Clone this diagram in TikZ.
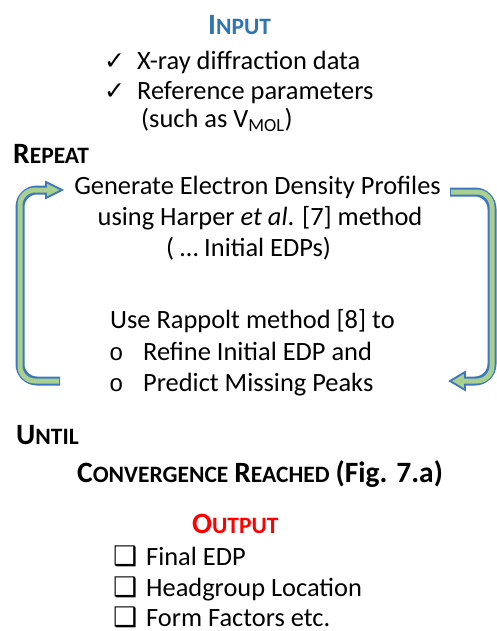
\documentclass[tikz,border=0pt]{standalone}
\usepackage{fontspec}
\setmainfont{Carlito}
\newfontfamily\symfont{DejaVu Sans}
\newfontfamily\monofont{Liberation Mono}
\definecolor{loopblue}{HTML}{3D77BD}
\definecolor{loopgreen}{HTML}{A9D08E}
\definecolor{inblue}{HTML}{2E75B6}
\definecolor{outred}{HTML}{FF0000}
\newcommand\szA{\fontsize{26.4}{30}\selectfont}
\newcommand\scBig{\fontsize{29.5}{30}\selectfont}
\newcommand\scSmall{\fontsize{23.5}{30}\selectfont}
\tikzset{
  txt/.style={anchor=base west, inner sep=0pt, font=\szA},
  ctxt/.style={anchor=base, inner sep=0pt, font=\szA},
  chk/.style={anchor=base west, inner sep=0pt, font=\symfont\fontsize{25}{26}\selectfont},
  bxs/.style={anchor=base west, inner sep=0pt, font=\symfont\fontsize{27}{28}\selectfont},
  bul/.style={anchor=base west, inner sep=0pt, font=\monofont\fontsize{24}{25}\selectfont},
  outerline/.style={draw=loopblue, line width=9pt, rounded corners=17pt},
  innerline/.style={draw=loopgreen, line width=5pt, rounded corners=15pt},
  headtip/.style={fill=loopgreen, draw=loopblue, line width=1.8pt, line join=miter}
}
\begin{document}
\begin{tikzpicture}[x=1pt,y=-1pt]
\useasboundingbox (0,0) rectangle (497,631);
% INPUT
\node[txt, text=inblue] (input) at (208,35) {\bfseries{\scBig I}{\scSmall NPUT}};
\node[chk] (ck1) at (104,70) {✓};
\node[txt] (in1) at (137,70) {X-ray diffraction data};
\node[chk] (ck2) at (104,100) {✓};
\node[txt] (in2) at (137,100) {Reference parameters};
\node[txt] (in3) at (141,128) {(such as V\textsubscript{MOL})};
% REPEAT
\node[txt] (repeat) at (13,164) {\bfseries{\scBig R}{\scSmall EPEAT}};
\node[ctxt] (gen1) at (257.5,194) {Generate Electron Density Profiles};
\node[ctxt] (gen2) at (260,225) {using Harper \textit{et al}. [7] method};
\node[ctxt] (gen3) at (248.5,256) {( … Initial EDPs)};
\node[txt] (use1) at (110,328) {Use Rappolt method [8] to};
\node[bul] (b1) at (109,360) {o};
\node[txt] (use2) at (143,360) {Refine Initial EDP and};
\node[bul] (b2) at (109,391) {o};
\node[txt] (use3) at (143,391) {Predict Missing Peaks};
% UNTIL
\node[txt] (until) at (16,444) {\bfseries{\scBig U}{\scSmall NTIL}};
\node[txt] (conv) at (77,482) {\bfseries{\scBig C}{\scSmall ONVERGENCE} {\scBig R}{\scSmall EACHED} {\scBig (Fig. 7.a)}};
% OUTPUT
\node[txt, text=outred] (output) at (192,533) {\bfseries{\scBig O}{\scSmall UTPUT}};
\node[bxs] (bx1) at (113,565) {❑};
\node[txt] (out1) at (146,565) {Final EDP};
\node[bxs] (bx2) at (113,596) {❑};
\node[txt] (out2) at (146,596) {Headgroup Location};
\node[bxs] (bx3) at (113,626) {❑};
\node[txt] (out3) at (146,626) {Form Factors etc.};
% loop arrows
\coordinate (Lstart) at (60,381);
\coordinate (Lcor1) at (20,381);
\coordinate (Lcor2) at (20,190);
\coordinate (Lbase) at (46,190);
\coordinate (Ltip) at (62,190);
\coordinate (Rstart) at (450,192);
\coordinate (Rcor1) at (492,192);
\coordinate (Rcor2) at (492,381);
\coordinate (Rbase) at (465,381);
\coordinate (Rtip) at (450,381);
% left
\draw[outerline] (Lstart) -- (Lcor1) -- (Lcor2) -- ([xshift=1pt]Lbase);
\draw[headtip] ([yshift=-8pt]Lbase) -- (Ltip) -- ([yshift=8pt]Lbase) -- cycle;
\draw[innerline] ([xshift=-1pt]Lstart) -- (Lcor1) -- (Lcor2) -- ([xshift=4pt]Lbase);
% right
\draw[outerline] (Rstart) -- (Rcor1) -- (Rcor2) -- ([xshift=-1pt]Rbase);
\draw[headtip] ([yshift=-9pt]Rbase) -- (Rtip) -- ([yshift=9pt]Rbase) -- cycle;
\draw[innerline] ([xshift=1pt]Rstart) -- (Rcor1) -- (Rcor2) -- ([xshift=-4pt]Rbase);
\end{tikzpicture}
\end{document}
